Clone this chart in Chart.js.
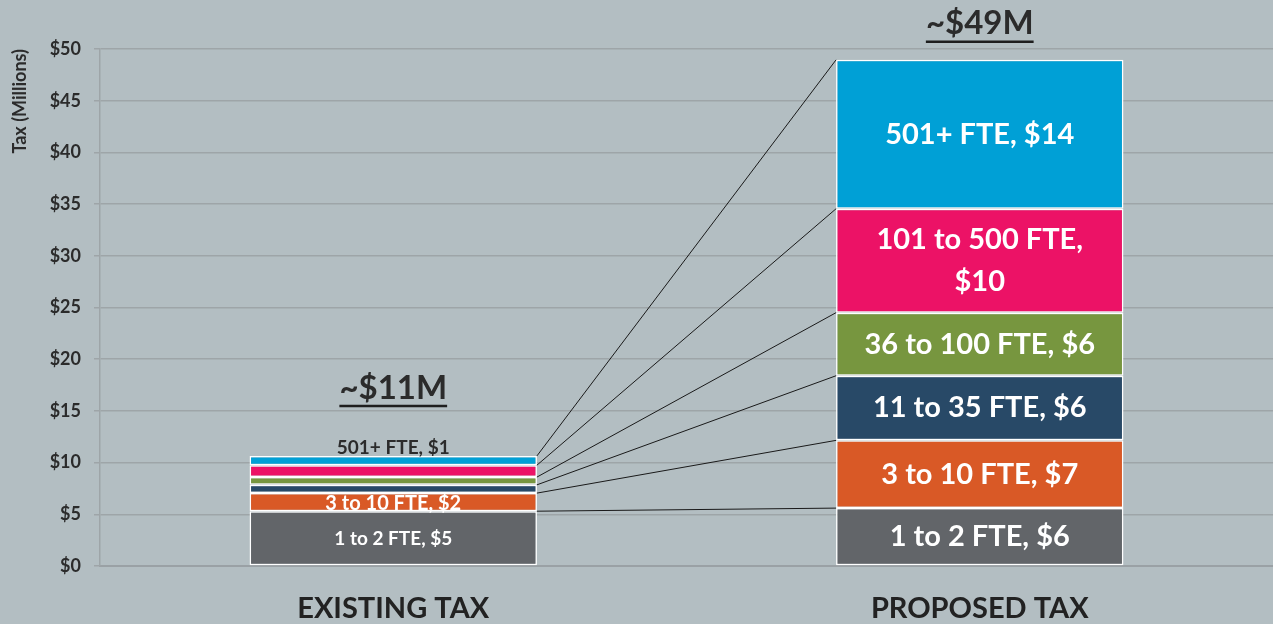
<!DOCTYPE html>
<html>
<head>
<meta charset="utf-8">
<script src="https://cdn.jsdelivr.net/npm/chart.js@4.4.1/dist/chart.umd.min.js"></script>
<style>
  html, body { margin: 0; padding: 0; background: #b3bec2; }
  #wrap { width: 1273px; height: 624px; position: relative; }
</style>
</head>
<body>
<div id="wrap"><canvas id="chart"></canvas></div>
<script>
// categories and series (values in $ millions)
const categories = ['EXISTING TAX', 'PROPOSED TAX'];
const tiers = ['1 to 2 FTE', '3 to 10 FTE', '11 to 35 FTE', '36 to 100 FTE', '101 to 500 FTE', '501+ FTE'];
const existingTax = [5.3, 1.75, 0.8, 0.75, 1.15, 0.9];
const proposedTax = [5.6, 6.55, 6.25, 6.1, 10.05, 14.4];
const existingLabels = ['$5', '$2', '', '', '', '$1'];
const proposedLabels = ['$6', '$7', '$6', '$6', '$10', '$14'];
const totals = ['~$11M', '~$49M'];
const yTicks = [0, 5, 10, 15, 20, 25, 30, 35, 40, 45, 50];

const colors = ['#626569', '#d95926', '#284967', '#77963f', '#ec1266', '#00a0d6'];
const FONT = 'Lato, "Open Sans", sans-serif';

// background + connector lines + bar labels
const extras = {
  id: 'extras',
  beforeDraw(chart) {
    const ctx = chart.ctx;
    ctx.save();
    ctx.fillStyle = '#b3bec2';
    ctx.fillRect(0, 0, chart.width, chart.height);
    ctx.restore();
  },
  afterDatasetsDraw(chart) {
    const ctx = chart.ctx;
    ctx.save();
    // connector lines from existing bar to proposed bar
    ctx.strokeStyle = '#1a1a1a';
    ctx.lineWidth = 1;
    tiers.forEach((t, i) => {
      const bars = chart.getDatasetMeta(i).data;
      const a = bars[0], b = bars[1];
      ctx.beginPath();
      ctx.moveTo(a.x + a.width / 2, a.y);
      ctx.lineTo(b.x - b.width / 2, b.y);
      ctx.stroke();
    });

    ctx.textAlign = 'center';
    ctx.textBaseline = 'middle';
    // existing bar labels
    tiers.forEach((t, i) => {
      if (!existingLabels[i]) return;
      const el = chart.getDatasetMeta(i).data[0];
      const txt = t + ', ' + existingLabels[i];
      if (i === tiers.length - 1) {
        ctx.fillStyle = '#2b2b2b';
        ctx.font = 'bold 19px ' + FONT;
        ctx.fillText(txt, el.x, el.y - 8);
      } else {
        ctx.fillStyle = '#ffffff';
        ctx.font = 'bold ' + (i === 0 ? 19 : 20) + 'px ' + FONT;
        ctx.fillText(txt, el.x, (el.y + el.base) / 2 + 1);
      }
    });
    // proposed bar labels
    ctx.fillStyle = '#ffffff';
    ctx.font = 'bold 29px ' + FONT;
    tiers.forEach((t, i) => {
      const el = chart.getDatasetMeta(i).data[1];
      const mid = (el.y + el.base) / 2;
      if (i === 4) {
        ctx.fillText(t + ',', el.x, mid - 21);
        ctx.fillText(proposedLabels[i], el.x, mid + 21);
      } else {
        ctx.fillText(t + ', ' + proposedLabels[i], el.x, mid);
      }
    });
    // totals, underlined
    ctx.fillStyle = '#2b2b2b';
    ctx.strokeStyle = '#1e1e1e';
    ctx.font = 'bold 33px ' + FONT;
    const top = chart.getDatasetMeta(tiers.length - 1).data;
    const offs = [68, 36];
    totals.forEach((txt, k) => {
      const x = top[k].x, y = top[k].y - offs[k];
      ctx.fillText(txt, x, y);
      const w = ctx.measureText(txt).width;
      ctx.lineWidth = 2.5;
      ctx.beginPath();
      ctx.moveTo(x - w / 2, y + 18);
      ctx.lineTo(x + w / 2, y + 18);
      ctx.stroke();
    });
    ctx.restore();
  }
};

new Chart(document.getElementById('chart'), {
  type: 'bar',
  data: {
    labels: categories,
    datasets: tiers.map((t, i) => ({
      label: t,
      data: [existingTax[i], proposedTax[i]],
      backgroundColor: colors[i],
      borderColor: '#ffffff',
      borderWidth: 1.5,
      borderSkipped: false,
      categoryPercentage: 1,
      barPercentage: 0.49
    }))
  },
  options: {
    responsive: true,
    maintainAspectRatio: false,
    animation: false,
    layout: { padding: { top: 49, right: 0, bottom: 0, left: 0 } },
    plugins: {
      legend: { display: false },
      tooltip: { enabled: false }
    },
    scales: {
      x: {
        stacked: true,
        afterFit(scale) { scale.height = 58; },
        grid: { display: false },
        border: { color: '#9aa1a5', width: 2 },
        ticks: {
          color: '#222222',
          padding: 17,
          font: { family: FONT, size: 29, weight: 'bold', lineHeight: 1.2 }
        }
      },
      y: {
        stacked: true,
        min: 0,
        max: 50,
        afterBuildTicks(scale) { scale.ticks = yTicks.map(v => ({ value: v })); },
        afterFit(scale) { scale.width = 100; },
        grid: { color: '#9ea5a8', lineWidth: 1.5, tickLength: 6 },
        border: { color: '#9ea5a8', width: 1.5 },
        ticks: {
          color: '#2b2b2b',
          padding: 13,
          font: { family: FONT, size: 18, weight: 'bold' },
          callback: v => '$' + v
        },
        title: {
          display: true,
          align: 'end',
          text: 'Tax (Millions)',
          color: '#2b2b2b',
          font: { family: FONT, size: 18, weight: 'bold' },
          padding: { top: 9, bottom: 0 }
        }
      }
    }
  },
  plugins: [extras]
});
</script>
</body>
</html>
